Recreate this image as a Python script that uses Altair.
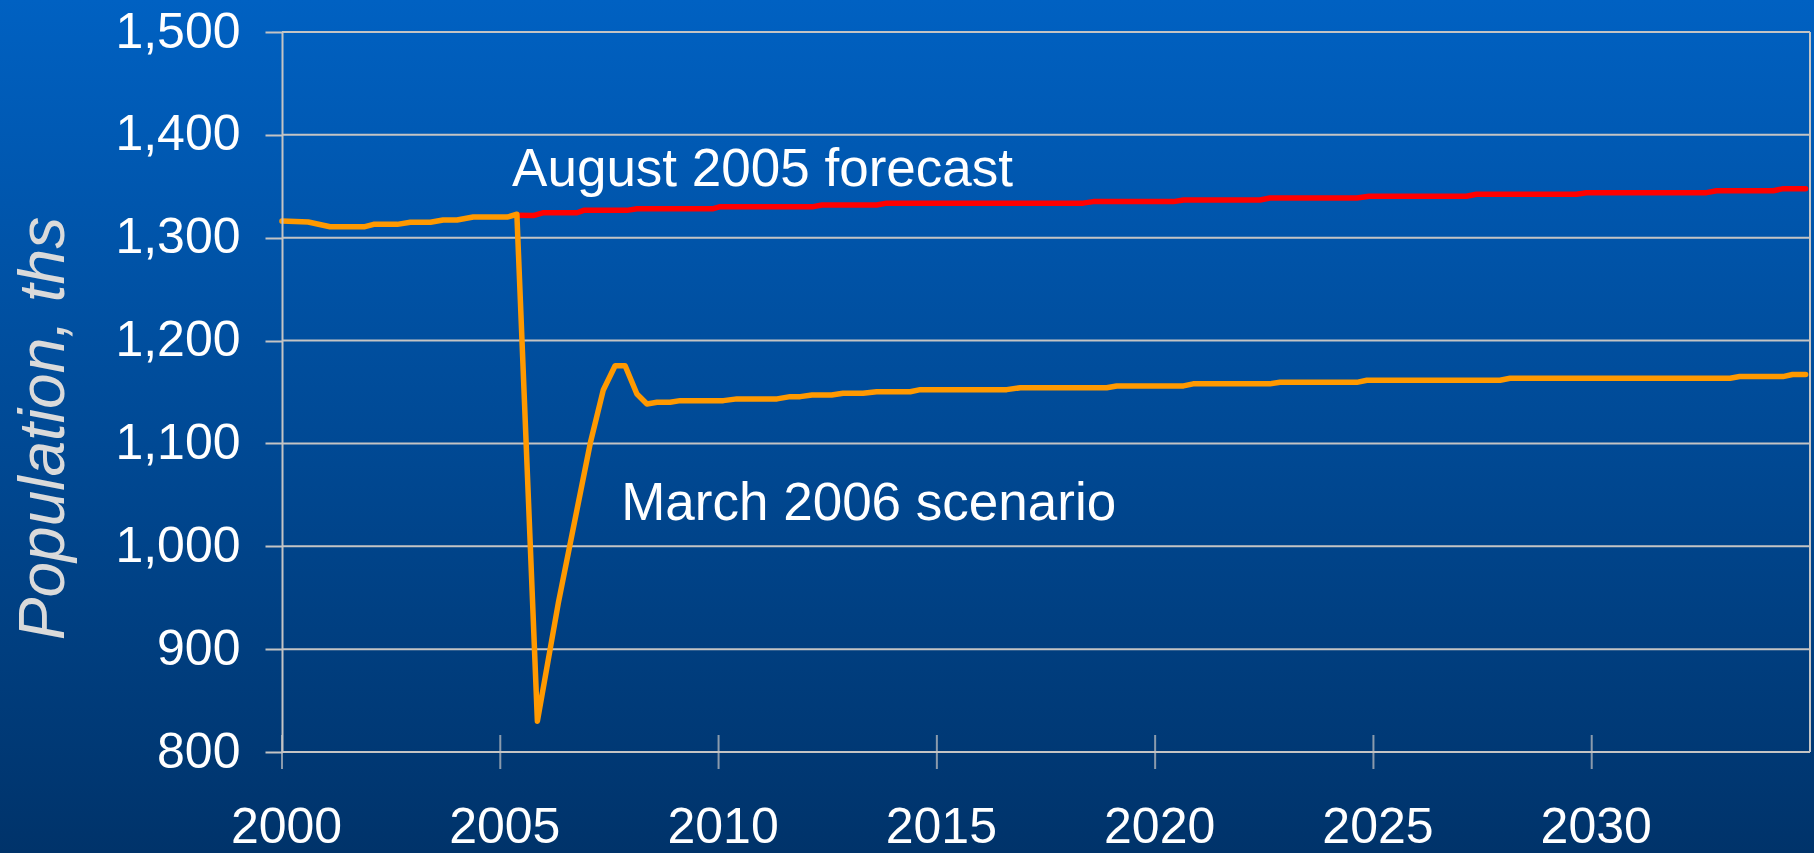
import altair as alt
import pandas as pd

# Axis ticks
x_ticks = [2000, 2005, 2010, 2015, 2020, 2025, 2030]
y_ticks = [800, 900, 1000, 1100, 1200, 1300, 1400, 1500]
x_end = 2035

# March 2006 scenario, population in thousands
scenario_years = [
    2000.0, 2000.6, 2001.1, 2001.9, 2002.1, 2002.64, 2002.94, 2003.4, 2003.69, 2004.01,
    2004.38, 2005.16, 2005.38, 2005.85, 2006.33, 2007.06, 2007.36, 2007.63, 2007.86, 2008.13,
    2008.36, 2008.59, 2008.89, 2009.12, 2010.11, 2010.42, 2011.34, 2011.64, 2011.87, 2012.14,
    2012.59, 2012.85, 2013.31, 2013.62, 2014.39, 2014.62, 2016.6, 2016.91, 2018.89, 2019.12,
    2020.65, 2020.87, 2022.63, 2022.86, 2024.62, 2024.85, 2027.9, 2028.13, 2033.17, 2033.39,
    2034.38, 2034.6, 2034.9,
]
scenario_values = [
    1316.2, 1315.3, 1310.7, 1310.7, 1313, 1313, 1315, 1315, 1317.2, 1317.2,
    1320.1, 1320.1, 1322.8, 830, 945, 1100, 1152, 1175.5, 1175.5, 1148,
    1138.4, 1140, 1140, 1141.6, 1141.6, 1143.3, 1143.3, 1145.5, 1145.5, 1147,
    1147, 1148.7, 1148.7, 1150.3, 1150.3, 1152.3, 1152.3, 1154.1, 1154.1, 1155.9,
    1155.9, 1157.9, 1157.9, 1159.4, 1159.4, 1161.4, 1161.4, 1163.3, 1163.3, 1165,
    1165, 1167, 1167,
]

# August 2005 forecast, population in thousands
forecast_years = [
    2005.38, 2005.76, 2005.99, 2006.76, 2006.91, 2007.9, 2008.13, 2009.88, 2010.04, 2012.17,
    2012.37, 2013.62, 2013.85, 2018.35, 2018.58, 2020.42, 2020.65, 2022.4, 2022.63, 2024.62,
    2024.9, 2027.13, 2027.36, 2029.65, 2029.88, 2032.63, 2032.86, 2034.16, 2034.39, 2034.9,
]
forecast_values = [
    1321.8, 1321.5, 1324.3, 1324.3, 1326.6, 1326.6, 1328.2, 1328.2, 1330.2, 1330.2,
    1331.8, 1331.8, 1333.6, 1333.6, 1335.1, 1335.1, 1336.7, 1336.7, 1338.6, 1338.6,
    1340.3, 1340.3, 1342.2, 1342.2, 1343.8, 1343.8, 1345.7, 1345.7, 1347.7, 1347.7,
]

# Layout
W, H = 1528, 720
PAD = {"left": 282, "top": 32, "right": 4, "bottom": 101}
FONT = "Liberation Sans, Arial, sans-serif"
GRID = "#c4c4c4"

x_scale = alt.Scale(domain=[2000, x_end], nice=False, zero=False)
y_scale = alt.Scale(domain=[800, 1500], nice=False, zero=False)

x_axis = alt.Axis(
    values=x_ticks, format="d", grid=False, domain=False, ticks=False, tickSize=0,
    labelFontSize=50, labelColor="white", labelFont=FONT, labelFlush=False,
    labelBaseline="alphabetic", labelPadding=90, labelOffset=4, title=None, zindex=1,
)
y_axis = alt.Axis(
    values=y_ticks, format=",.0f", grid=False,
    domainColor=GRID, domainWidth=2, tickColor=GRID, tickWidth=2, tickSize=17,
    labelFontSize=50, labelColor="white", labelFont=FONT, labelPadding=25,
    title="Population, ths", titleFont=FONT, titleFontSize=64, titleFontStyle="italic",
    titleFontWeight="normal", titleColor="#dadada", titleAngle=270,
    titleAlign="center", titleBaseline="alphabetic", titleX=-219, titleY=396, zindex=1,
)


def X(field="year"):
    return alt.X(f"{field}:Q", scale=x_scale, axis=x_axis)


def Y(field="value"):
    return alt.Y(f"{field}:Q", scale=y_scale, axis=y_axis)


# Slide background: vertical blue gradient over the whole canvas
gradient = alt.LinearGradient(
    gradient="linear", x1=0, y1=0, x2=0, y2=1,
    stops=[alt.GradientStop(color="#0061c2", offset=0),
           alt.GradientStop(color="#00336a", offset=1)],
)
background = alt.Chart(pd.DataFrame({"k": [0]})).mark_rect(color=gradient).encode(
    x=alt.value(-PAD["left"]), x2=alt.value(W + PAD["right"]),
    y=alt.value(-PAD["top"]), y2=alt.value(H + PAD["bottom"]),
)

gridlines = alt.Chart(pd.DataFrame({"value": y_ticks})).mark_rule(
    color=GRID, strokeWidth=2
).encode(y=Y())

right_edge = alt.Chart(pd.DataFrame({"year": [x_end]})).mark_rule(
    color=GRID, strokeWidth=2
).encode(x=X())

x_tickmarks = alt.Chart(
    pd.DataFrame({"year": x_ticks, "value": [800] * len(x_ticks)})
).mark_tick(orient="vertical", size=34, thickness=2, color=GRID).encode(x=X(), y=Y())

line_style = dict(strokeWidth=5.5, strokeJoin="round", strokeCap="round")
forecast = alt.Chart(
    pd.DataFrame({"year": forecast_years, "value": forecast_values})
).mark_line(color="#ff0000", **line_style).encode(x=X(), y=Y())

scenario = alt.Chart(
    pd.DataFrame({"year": scenario_years, "value": scenario_values})
).mark_line(color="#ff9900", **line_style).encode(x=X(), y=Y())

text_style = dict(font=FONT, fontSize=53, color="white", align="left", baseline="alphabetic")
note_forecast = alt.Chart(pd.DataFrame({"k": [0]})).mark_text(**text_style).encode(
    x=alt.X("datum_x:Q", scale=x_scale, axis=x_axis),
    y=alt.Y("datum_y:Q", scale=y_scale, axis=y_axis),
    text=alt.value("August 2005 forecast"),
).transform_calculate(datum_x="2005.27", datum_y="1350.3")
note_scenario = alt.Chart(pd.DataFrame({"k": [0]})).mark_text(**text_style).encode(
    x=alt.X("datum_x:Q", scale=x_scale, axis=x_axis),
    y=alt.Y("datum_y:Q", scale=y_scale, axis=y_axis),
    text=alt.value("March 2006 scenario"),
).transform_calculate(datum_x="2007.77", datum_y="1025.3")

chart = alt.layer(
    background, gridlines, right_edge, x_tickmarks, forecast, scenario,
    note_forecast, note_scenario,
).properties(
    width=W, height=H, autosize=alt.AutoSizeParams(type="none"), padding=PAD,
).configure_view(stroke=None).configure(background="#00336a")

chart.save("out.html", embed_options={"renderer": "svg", "actions": False})
